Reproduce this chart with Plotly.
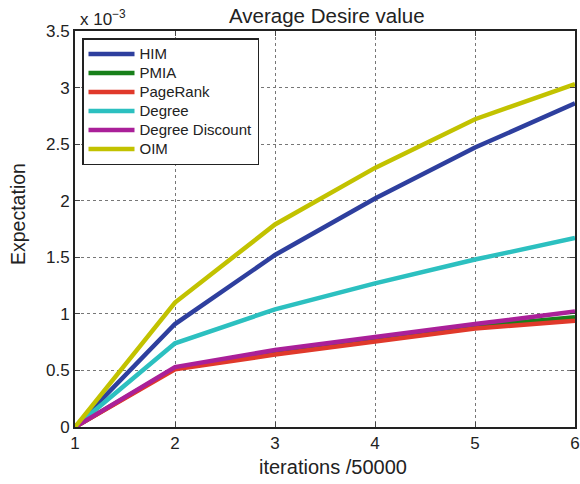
import plotly.graph_objects as go

iterations = [1, 2, 3, 4, 5, 6]
him = [0, 0.91, 1.52, 2.02, 2.47, 2.86]
pmia = [0, 0.52, 0.66, 0.77, 0.89, 0.97]
pagerank = [0, 0.51, 0.64, 0.75, 0.87, 0.94]
degree = [0, 0.74, 1.04, 1.27, 1.48, 1.67]
degree_discount = [0, 0.53, 0.68, 0.80, 0.91, 1.02]
oim = [0, 1.10, 1.79, 2.29, 2.72, 3.03]

series = [
    ("HIM", him, "#2e3f9e"),
    ("PMIA", pmia, "#18801a"),
    ("PageRank", pagerank, "#e0392b"),
    ("Degree", degree, "#2cc0c0"),
    ("Degree Discount", degree_discount, "#aa2099"),
    ("OIM", oim, "#c2c200"),
]
y_ticks = [0, 0.5, 1, 1.5, 2, 2.5, 3, 3.5]
y_tick_text = ["0", "0.5", "1", "1.5", "2", "2.5", "3", "3.5"]

fig = go.Figure()
for name, vals, col in series:
    fig.add_trace(go.Scatter(
        x=iterations, y=vals, mode="lines",
        name='<span style="font-size:15px">%s</span>' % name,
        line=dict(color=col, width=4.5)))

font_family = "Liberation Sans, Arial, sans-serif"
W, H = 580, 484
L, R, T, B = 75, 5, 31, 57
pw, ph = W - L - R, H - T - B


def px(xp):
    return (xp - L) / pw


def py(yp):
    return (H - B - yp) / ph


fig.update_layout(
    width=W, height=H,
    margin=dict(l=L, r=R, t=T, b=B),
    plot_bgcolor="white", paper_bgcolor="white",
    font=dict(family=font_family, color="#222", size=17),
    showlegend=True,
    hovermode=False,
    legend=dict(x=px(82), y=py(38), xanchor="left", yanchor="top",
                bordercolor="#222", borderwidth=1.5, bgcolor="white",
                font=dict(size=12.2, color="#222"), itemwidth=46,
                tracegroupgap=0),
    xaxis=dict(range=[1, 6], tickvals=iterations, ticks="inside", ticklen=5,
               showline=True, linecolor="#222", linewidth=2, mirror="ticks",
               showgrid=True, gridcolor="#777", griddash="dot", gridwidth=1,
               zeroline=False, tickfont=dict(size=17), automargin=False,
               ticklabeloverflow="allow"),
    yaxis=dict(range=[0, 3.5], tickvals=y_ticks, ticktext=y_tick_text,
               ticks="inside", ticklen=5,
               showline=True, linecolor="#222", linewidth=2, mirror="ticks",
               showgrid=True, gridcolor="#777", griddash="dot", gridwidth=1,
               zeroline=False, tickfont=dict(size=17), automargin=False),
    annotations=[
        dict(text="Average Desire value", xref="paper", yref="paper",
             x=px(327), y=py(15.5), xanchor="center", yanchor="middle",
             showarrow=False, font=dict(size=20.5, color="#222")),
        dict(text="x 10<sup>−3</sup>", xref="paper", yref="paper",
             x=px(78), y=py(31), xanchor="left", yanchor="bottom",
             showarrow=False, font=dict(size=17, color="#222")),
        dict(text="iterations /50000", xref="paper", yref="paper",
             x=px(333), y=py(467), xanchor="center", yanchor="middle",
             showarrow=False, font=dict(size=20, color="#222")),
        dict(text="Expectation", xref="paper", yref="paper", textangle=-90,
             x=px(18), y=py(214), xanchor="center", yanchor="middle",
             showarrow=False, font=dict(size=19.5, color="#222")),
    ],
)

fig.write_html("out.html", config={"displayModeBar": False},
               post_script="document.body.style.margin='0';")
